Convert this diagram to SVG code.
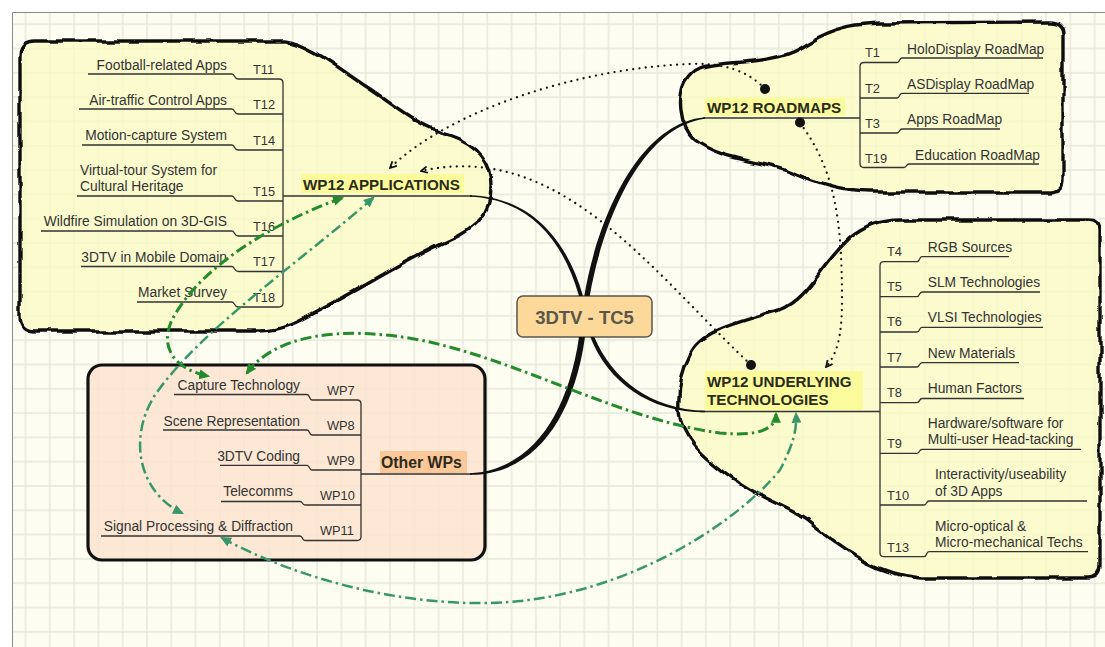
<svg xmlns="http://www.w3.org/2000/svg" width="1105" height="647" viewBox="0 0 1105 647">
<defs>
<style>
.t{font-family:"Liberation Sans",Arial,sans-serif;font-size:13.8px;fill:#333}
.lb{font-size:12.8px}
.h{font-family:"Liberation Sans",Arial,sans-serif;font-weight:bold;font-size:15.2px;fill:#2b2b1c}
.tree{fill:none;stroke:#333;stroke-width:1.3}
.cloud{fill:#fbfbc4;fill-opacity:0.78;stroke:#111;stroke-width:3.4;stroke-linejoin:round}
.hub{fill:#111}
.dot{fill:none;stroke:#111;stroke-width:2.3;stroke-dasharray:0 6.3;stroke-linecap:round}
.gd{fill:none;stroke:#238b2b;stroke-width:3;stroke-dasharray:11 4 2.5 4}
.gt{fill:none;stroke:#37976a;stroke-width:2.5;stroke-dasharray:11 4 2.5 4}
</style>
<pattern id="grid" x="24.5" y="23.3" width="24.3" height="24.3" patternUnits="userSpaceOnUse">
<path d="M1 0 V24.3 M0 1 H24.3" stroke="#e4e9d9" stroke-width="1.4" fill="none"/>
</pattern>
<filter id="wavy" x="-5%" y="-5%" width="110%" height="110%">
<feTurbulence type="fractalNoise" baseFrequency="0.05" numOctaves="1" seed="11" result="n"/>
<feDisplacementMap in="SourceGraphic" in2="n" scale="8" xChannelSelector="R" yChannelSelector="G"/>
</filter>
<marker id="chev" viewBox="0 0 10 10" refX="9" refY="5" markerWidth="8" markerHeight="8" orient="auto" markerUnits="userSpaceOnUse">
<path d="M1 1 L9 5 L1 9" fill="none" stroke="#111" stroke-width="2.2"/>
</marker>
<marker id="ad" viewBox="0 0 10 10" refX="8" refY="5" markerWidth="11" markerHeight="11" orient="auto-start-reverse" markerUnits="userSpaceOnUse">
<path d="M0 0.5 L10 5 L0 9.5 Z" fill="#238b2b"/>
</marker>
<marker id="at" viewBox="0 0 10 10" refX="8" refY="5" markerWidth="11" markerHeight="11" orient="auto-start-reverse" markerUnits="userSpaceOnUse">
<path d="M0 0.5 L10 5 L0 9.5 Z" fill="#37976a"/>
</marker>
</defs>

<rect x="0" y="0" width="1105" height="647" fill="#ffffff"/>
<rect x="12" y="12" width="1093" height="635" fill="#fdfdf2"/>
<rect x="12" y="12" width="1093" height="635" fill="url(#grid)"/>
<path d="M12.5 647 V12.5 H1105" fill="none" stroke="#8a8a8a" stroke-width="1"/>

<!-- WP12 APPLICATIONS -->
<g id="applications">
<path class="cloud" filter="url(#wavy)" d="M40 41 L285 41 C310 45 330 62 367 87 C395 105 415 125 450 135 C480 145 492 165 492 187 C492 210 478 228 450 240 C410 258 370 283 333 303 C305 318 285 331 260 331 L35 331 Q20 331 20 316 L20 56 Q20 41 35 41 Z"/>
<path class="tree" d="M88 74 H232 C235 74 234 79 238 79 H279 Q283 79 283 83 V303 Q283 307 279 307 H238 C234 307 235 302 232 302 H137"/>
<path class="tree" d="M79 109 H232 C235 109 234 114 238 114 H283 M82 145 H232 C235 145 234 150 238 150 H283 M77 196 H232 C235 196 234 201 238 201 H283 M41 231 H232 C235 231 234 236 238 236 H283 M81 266.5 H232 C235 266.5 234 271.5 238 271.5 H283 M283 196 H472"/>
<rect x="301" y="174" width="163" height="19" fill="#fbfb9c"/>
<text class="h" x="303" y="190">WP12 APPLICATIONS</text>
<g class="t" text-anchor="end">
<text x="227" y="69.5">Football-related Apps</text>
<text x="227" y="104.5">Air-traffic Control Apps</text>
<text x="227" y="140">Motion-capture System</text>
<text x="227" y="226">Wildfire Simulation on 3D-GIS</text>
<text x="227" y="261.5">3DTV in Mobile Domain</text>
<text x="227" y="297">Market Survey</text>
</g>
<text class="t" x="80" y="175">Virtual-tour System for</text>
<text class="t" x="80" y="191">Cultural Heritage</text>
<g class="t lb">
<text x="253" y="73.5">T11</text>
<text x="253" y="109">T12</text>
<text x="253" y="144.5">T14</text>
<text x="253" y="196">T15</text>
<text x="253" y="230.5">T16</text>
<text x="253" y="266">T17</text>
<text x="253" y="301.5">T18</text>
</g>
</g>

<!-- WP12 ROADMAPS -->
<g id="roadmaps">
<path class="cloud" filter="url(#wavy)" d="M700 68 C720 60 770 66 800 48 C825 32 845 24 880 23 L1050 22 Q1063 22 1063 35 L1063 180 Q1063 192 1050 192 L870 192 C840 192 815 183 790 172 C760 160 720 160 695 140 C678 125 678 95 685 82 C690 74 695 70 700 68 Z"/>
<path class="tree" d="M1043 58 H902 C899 58 900 62.5 897 62.5 H864 Q860 62.5 860 66.5 V163.5 Q860 167.5 864 167.5 H904 C907 167.5 906 164 909 164 H1039"/>
<path class="tree" d="M1029 93.3 H902 C899 93.3 900 98 897 98 H860 M1000 129 H902 C899 129 900 133 897 133 H860 M703 118 H860"/>
<rect x="705" y="97.5" width="140" height="18" fill="#fbfb9c"/>
<text class="h" x="707" y="112.5">WP12 ROADMAPS</text>
<g class="t">
<text x="907" y="53.5">HoloDisplay RoadMap</text>
<text x="907" y="88.5">ASDisplay RoadMap</text>
<text x="907" y="124">Apps RoadMap</text>
<text x="915" y="159.5">Education RoadMap</text>
</g>
<g class="t lb">
<text x="865" y="57">T1</text>
<text x="865" y="92.5">T2</text>
<text x="865" y="128">T3</text>
<text x="865" y="163">T19</text>
</g>
</g>

<!-- WP12 UNDERLYING TECHNOLOGIES -->
<g id="underlying">
<path class="cloud" filter="url(#wavy)" d="M690 355 C700 330 740 322 780 310 C810 298 820 265 850 238 C865 226 880 220 900 220 L1088 220 Q1100 220 1100 232 L1100 566 Q1100 578 1088 578 L920 578 C880 575 850 555 815 527 C790 505 760 500 735 480 C700 455 680 435 679 410 C678 390 682 370 690 355 Z"/>
<path class="tree" d="M1009 256.7 H922 C919 256.7 920 261.7 917 261.7 H884 Q880 261.7 880 265.7 V552.7 Q880 556.7 884 556.7 H924 C927 556.7 926 551.7 929 551.7 H1088"/>
<path class="tree" d="M1040 292 H922 C919 292 920 296.7 917 296.7 H880 M1043 327.3 H922 C919 327.3 920 332 917 332 H880 M1019 362.7 H922 C919 362.7 920 367 917 367 H880 M1024 398.5 H922 C919 398.5 920 402.7 917 402.7 H880 M1081 449.3 H922 C919 449.3 920 453.3 917 453.3 H880 M1087 501 H929 C926 501 927 505 924 505 H880 M700 411.5 H880"/>
<rect x="705" y="371" width="158" height="39" fill="#fbfb9c"/>
<text class="h" x="707" y="386.5">WP12 UNDERLYING</text>
<text class="h" x="707" y="405">TECHNOLOGIES</text>
<g class="t">
<text x="927.7" y="251.7">RGB Sources</text>
<text x="927.7" y="286.7">SLM Technologies</text>
<text x="927.7" y="322.3">VLSI Technologies</text>
<text x="927.7" y="357.7">New Materials</text>
<text x="927.7" y="393.3">Human Factors</text>
<text x="927.7" y="428.3">Hardware/software for</text>
<text x="927.7" y="444.3">Multi-user Head-tacking</text>
<text x="935" y="479.3">Interactivity/useability</text>
<text x="935" y="496">of 3D Apps</text>
<text x="935" y="530.7">Micro-optical &amp;</text>
<text x="935" y="547.3">Micro-mechanical Techs</text>
</g>
<g class="t lb">
<text x="887" y="255.5">T4</text>
<text x="887" y="290.5">T5</text>
<text x="887" y="326">T6</text>
<text x="887" y="361.5">T7</text>
<text x="887" y="397">T8</text>
<text x="887" y="448">T9</text>
<text x="887" y="500">T10</text>
<text x="887" y="551.5">T13</text>
</g>
</g>

<!-- Other WPs -->
<g id="other-wps">
<rect x="88" y="365" width="397" height="195" rx="14" fill="#fbe4cf" fill-opacity="0.85" stroke="#111" stroke-width="3.2"/>
<path class="tree" d="M174 394.5 H307 C310 394.5 309 400 312 400 H357 Q361 400 361 404 V536.5 Q361 540.5 357 540.5 H305 C302 540.5 303 536 300 536 H101"/>
<path class="tree" d="M163 430 H307 C310 430 309 435 312 435 H361 M220 465.3 H307 C310 465.3 309 470 312 470 H361 M221 501.5 H300 C303 501.5 302 505 305 505 H361 M361 474 H472"/>
<rect x="380" y="451" width="87" height="22" fill="#fcc89a"/>
<text class="h" x="381" y="468" style="font-size:15.8px">Other WPs</text>
<g class="t" text-anchor="end">
<text x="300" y="390">Capture Technology</text>
<text x="300" y="425.7">Scene Representation</text>
<text x="300" y="460.7">3DTV Coding</text>
<text x="293" y="496">Telecomms</text>
<text x="293" y="531">Signal Processing &amp; Diffraction</text>
</g>
<g class="t lb">
<text x="327" y="394.5">WP7</text>
<text x="327" y="430">WP8</text>
<text x="327" y="465">WP9</text>
<text x="320" y="500">WP10</text>
<text x="320" y="535">WP11</text>
</g>
</g>

<!-- central topic -->
<g id="center">
<rect x="517" y="296" width="135" height="41" rx="6" fill="#fcd99a" stroke="#5a5648" stroke-width="1.5"/>
<text x="584.5" y="323.5" text-anchor="middle" style="font-family:'Liberation Sans',Arial,sans-serif;font-weight:bold;font-size:18.5px;fill:#5a5648">3DTV - TC5</text>
</g>

<!-- connectors -->
<g id="connectors">
<path class="hub" d="M470 195.2 C531 197 567 240 583 296 L579 296 C563 240 529 199 470 196.8 Z"/>
<path class="hub" d="M584.3 296 C597 220 638 123 705 117.2 L705 118.8 C642 127 603 220 589.7 296 Z"/>
<path class="hub" d="M590.3 337 C608 382 649 412.3 705 412.3 L705 410.7 C651 409.5 612 379 594.3 337 Z"/>
<path class="hub" d="M585 337 C573 422 532 474.8 470 474.8 L470 473.2 C528 470 567 420 579 337 Z"/>

<path class="dot" d="M765 89 Q740 62 690 64 C580 68 450 110 390 168" marker-end="url(#chev)"/>
<path class="dot" d="M751 365 C650 270 560 140 421 171" marker-end="url(#chev)"/>
<path class="dot" d="M800 123 C835 170 842 220 842 300 C842 340 836 355 826 367" marker-end="url(#chev)"/>
<circle cx="765" cy="89" r="5" fill="#111"/>
<circle cx="800" cy="122.5" r="5" fill="#111"/>
<circle cx="751" cy="365" r="5" fill="#111"/>

<path class="gd" d="M342 198 C280 220 200 265 172 320 C158 350 178 370 208 376" marker-start="url(#ad)" marker-end="url(#ad)"/>
<path class="gt" d="M373 198 C300 262 200 330 155 395 C128 437 138 492 182 513" marker-start="url(#at)" marker-end="url(#at)"/>
<path class="gd" d="M247 373 C275 335 340 325 420 340 C520 360 620 420 720 433 C760 437 776 428 776 414" marker-start="url(#ad)" marker-end="url(#ad)"/>
<path class="gt" d="M222 538 C300 580 400 605 490 603 C620 600 735 525 780 470 C793 445 797 430 796 414" marker-start="url(#at)" marker-end="url(#at)"/>
</g>
</svg>
